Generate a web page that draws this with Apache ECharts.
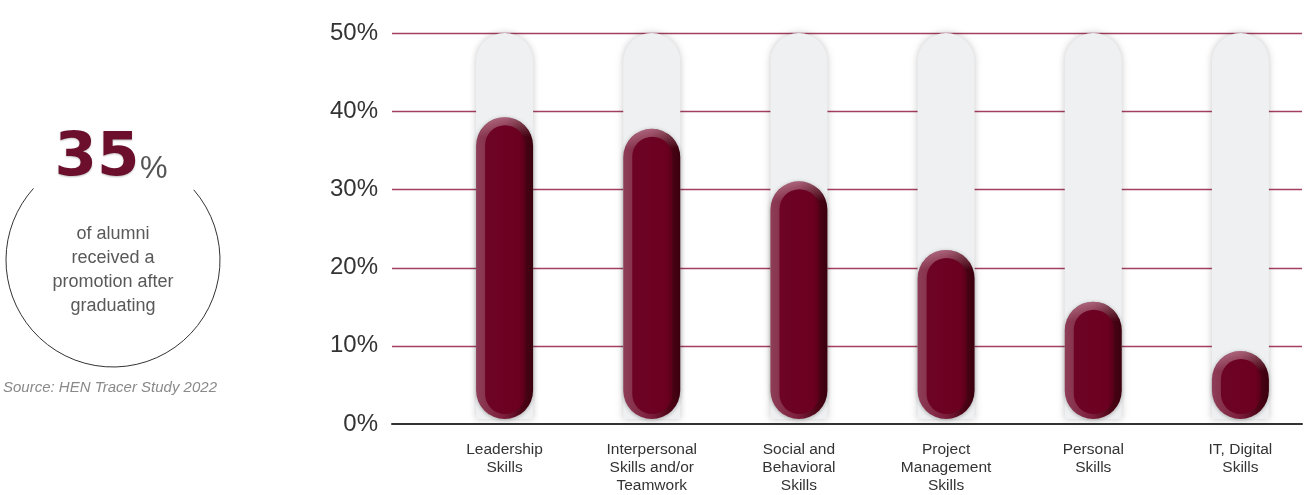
<!DOCTYPE html>
<html>
<head>
<meta charset="utf-8">
<script src="https://cdn.jsdelivr.net/npm/echarts@6/dist/echarts.min.js"></script>
<style>
html,body{margin:0;padding:0;background:#fff;}
#chart{width:1314px;height:495px;}
</style>
</head>
<body>
<div id="chart"></div>
<script>
const categories = ['Leadership\nSkills', 'Interpersonal\nSkills and/or\nTeamwork', 'Social and\nBehavioral\nSkills', 'Project\nManagement\nSkills', 'Personal\nSkills', 'IT, Digital\nSkills'];
const values = [39.1, 37.6, 30.8, 21.9, 15.2, 8.8];
const gridTicks = [10, 20, 30, 40, 50];
const yMin = 0, yMax = 50, yStep = 10;
const bigStat = '35';
const statText = 'of alumni\nreceived a\npromotion after\ngraduating';
const sourceText = 'Source: HEN Tracer Study 2022';

const chart = echarts.init(document.getElementById('chart'), null, {renderer: 'canvas'});
const font = '"Liberation Sans", Arial, Helvetica, sans-serif';
const BW = 57, R = BW / 2;

function renderPill(params, api) {
  const idx = api.value(0), v = api.value(1);
  const top = api.coord([idx, v]);
  const bot = api.coord([idx, yMin]);
  const full = api.coord([idx, yMax]);
  const cx = top[0], x0 = cx - R, ty = top[1], by = bot[1], h = by - ty;
  return {
    type: 'group',
    children: [
      {type: 'rect', shape: {x: x0, y: full[1], width: BW, height: by - full[1], r: [R, R, 0, 0]},
       style: {fill: '#eff0f2', shadowBlur: 7, shadowColor: 'rgba(0,0,0,0.22)'}},
      {type: 'rect', shape: {x: x0, y: ty, width: BW, height: h, r: R},
       style: {shadowBlur: 4, shadowColor: 'rgba(0,0,0,0.3)', shadowOffsetY: 1,
         fill: {type: 'linear', x: 0, y: 0, x2: 1, y2: 0, colorStops: [
           {offset: 0, color: '#8e3e58'}, {offset: 0.5, color: '#7a1d3a'}, {offset: 0.8, color: '#4e0416'}, {offset: 1, color: '#3a000d'}]}}},
      {type: 'rect', shape: {x: x0 + 1, y: ty, width: BW - 2, height: BW, r: R - 1},
       style: {fill: {type: 'linear', x: 0, y: 0, x2: 0, y2: 1, colorStops: [
           {offset: 0, color: 'rgba(255,225,235,0.35)'}, {offset: 0.35, color: 'rgba(255,225,235,0.0)'}]}}},
      {type: 'rect', shape: {x: x0 + 9, y: ty + 8, width: BW - 17, height: h - 13, r: (BW - 17) / 2},
       style: {fill: {type: 'linear', x: 0, y: 0, x2: 1, y2: 0, colorStops: [
           {offset: 0, color: '#6e0425'}, {offset: 0.85, color: '#6b0021'}, {offset: 1, color: '#5a0019'}]}}}
    ]
  };
}

function renderGridLine(params, api) {
  const cs = params.coordSys;
  const y = Math.round(api.coord([0, api.value(0)])[1]) + 0.5;
  return {type: 'line', shape: {x1: cs.x, y1: y, x2: cs.x + cs.width, y2: y},
          style: {stroke: '#a4405f', lineWidth: 1.4}};
}

const option = {
  backgroundColor: '#fff',
  animation: false,
  grid: [
    {left: 431, width: 922, top: 33, bottom: 71},
    {left: 392, right: 12, top: 33, bottom: 71}
  ],
  xAxis: [
    {type: 'category', gridIndex: 0, data: categories,
     axisLine: {show: false}, axisTick: {show: false}, splitLine: {show: false},
     axisLabel: {interval: 0, margin: 22, fontSize: 15.5, lineHeight: 18, color: '#333', fontFamily: font}},
    {type: 'value', gridIndex: 1, min: 0, max: 1,
     axisLine: {show: true, onZero: false, lineStyle: {color: '#333', width: 2}},
     axisTick: {show: false}, axisLabel: {show: false}, splitLine: {show: false}}
  ],
  yAxis: [
    {type: 'value', gridIndex: 0, min: yMin, max: yMax, interval: yStep, show: false, splitLine: {show: false}},
    {type: 'value', gridIndex: 1, min: yMin, max: yMax, interval: yStep,
     axisLine: {show: false}, axisTick: {show: false},
     axisLabel: {formatter: '{value}%', fontSize: 24, color: '#333', margin: 14, fontFamily: font},
     splitLine: {show: false}}
  ],
  series: [
    {type: 'custom', xAxisIndex: 1, yAxisIndex: 1, data: gridTicks.map(t => [t]),
     renderItem: renderGridLine, encode: {y: 0}, clip: false, silent: true, z: 0},
    {type: 'custom', xAxisIndex: 0, yAxisIndex: 0, data: values.map((v, i) => [i, v]),
     renderItem: renderPill, encode: {x: 0, y: 1}, clip: false, z: 2}
  ],
  graphic: [
    {type: 'arc', shape: {cx: 113, cy: 260, r: 107, startAngle: -41 * Math.PI / 180, endAngle: 222 * Math.PI / 180, clockwise: true},
     style: {fill: 'none', stroke: '#333', lineWidth: 1}},
    {type: 'text', x: 97, y: 159, style: {text: bigStat, font: 'bold 61px "DejaVu Sans", sans-serif', fill: '#6c0f2c', align: 'center', verticalAlign: 'middle', textShadowColor: 'rgba(0,0,0,0.25)', textShadowBlur: 2, textShadowOffsetY: 1}},
    {type: 'text', x: 140, y: 169, style: {text: '%', font: '31px ' + font, fill: '#555', align: 'left', verticalAlign: 'middle'}},
    {type: 'text', x: 113, y: 270, style: {text: statText, font: '18px ' + font, lineHeight: 24, fill: '#595959', align: 'center', verticalAlign: 'middle'}},
    {type: 'text', x: 110, y: 388, style: {text: sourceText, font: 'italic 15px ' + font, fill: '#8a8a8a', align: 'center', verticalAlign: 'middle'}}
  ]
};
chart.setOption(option);
</script>
</body>
</html>
